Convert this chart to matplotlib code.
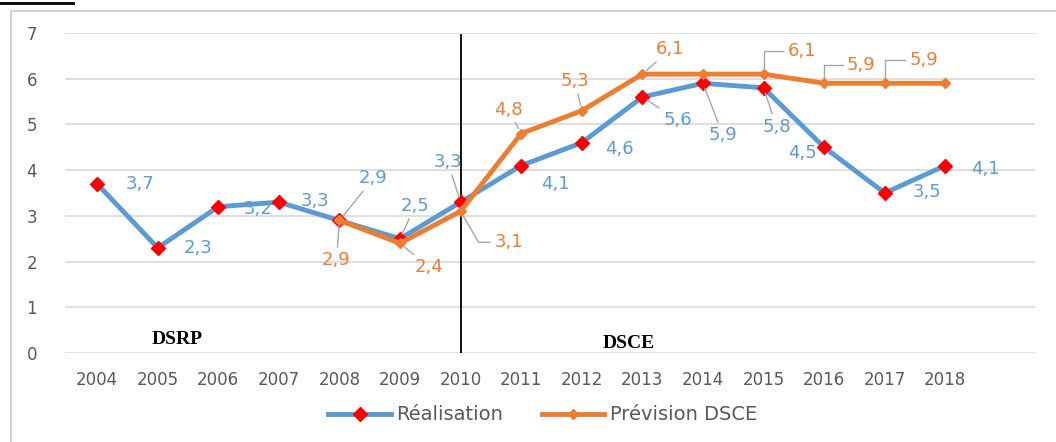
import matplotlib.pyplot as plt
from matplotlib.patches import Rectangle
from matplotlib.lines import Line2D

# data
years = [str(y) for y in range(2004, 2019)]
realisation = [3.7, 2.3, 3.2, 3.3, 2.9, 2.5, 3.3, 4.1, 4.6, 5.6, 5.9, 5.8, 4.5, 3.5, 4.1]
prev_years = years[4:]
prevision = [2.9, 2.4, 3.1, 4.8, 5.3, 6.1, 6.1, 6.1, 5.9, 5.9, 5.9]

# label offsets in pixels (dx, dy, leader): leader None or a connection style
STRAIGHT = 'arc3'
UP = 'angle,angleA=0,angleB=90,rad=0'
DIAG = 'angle,angleA=0,angleB=-60,rad=0'
blue_off = [(43, 0, None), (40, 0, None), (40, -2, None), (36, 1, None),
            (34, 42, STRAIGHT), (15, 33, STRAIGHT), (-13, 40, STRAIGHT),
            (34, -18, None), (38, -6, None), (35, -23, STRAIGHT),
            (20, -52, STRAIGHT), (13, -39, STRAIGHT), (-22, -6, None),
            (42, 1, None), (40, -3, None)]
orange_off = [(-3, -40, STRAIGHT), (29, -24, STRAIGHT), (48, -31, DIAG),
              (-13, 24, STRAIGHT), (-7, 30, STRAIGHT), (28, 25, STRAIGHT), None,
              (38, 23, UP), (37, 18, UP), (39, 23, UP), None]

BLUE = '#5B9BD5'
ORANGE = '#ED7D31'
GREY = '#595959'
LEADER = '#A6A6A6'

plt.rcParams['font.family'] = ['DejaVu Sans']
fig = plt.figure(figsize=(10.56, 4.42), dpi=100)
ax = fig.add_axes([65 / 1056, 89 / 442, 970 / 1056, 320 / 442])

# outer chart frame + cropped title underline at the very top
fig.patches.append(Rectangle((11 / 1056, -0.05), 1.1, (442 - 11) / 442 + 0.05,
                             transform=fig.transFigure, fill=False,
                             edgecolor='#D0D0D0', lw=1.5))
fig.lines.append(Line2D([0, 73 / 1056], [1 - 3 / 442] * 2, transform=fig.transFigure,
                        color='black', lw=2))

x_all = list(range(len(years)))
x_prev = [years.index(y) for y in prev_years]

ax.plot(x_all, realisation, color=BLUE, lw=3.5, marker='D', markersize=7,
        markerfacecolor='red', markeredgecolor='red', label='Réalisation', zorder=3)
ax.plot(x_prev, prevision, color=ORANGE, lw=3.5, marker='D', markersize=5.5,
        markerfacecolor=ORANGE, markeredgecolor=ORANGE, label='Prévision DSCE', zorder=4)


def fmt(v):
    return f'{v:.1f}'.replace('.', ',')


def put_labels(xs, vals, offsets, color):
    for xi, v, off in zip(xs, vals, offsets):
        if off is None:
            continue
        dx, dy, lead = off
        arrow = None
        if lead is not None:
            arrow = dict(arrowstyle='-', color=LEADER, lw=1, shrinkA=1, shrinkB=4,
                         connectionstyle=lead,
                         relpos=(0, 0.5) if lead != STRAIGHT else (0.5, 0.5))
        ax.annotate(fmt(v), (xi, v), xytext=(dx, dy), textcoords='offset pixels',
                    ha='center', va='center', color=color, fontsize=13,
                    arrowprops=arrow, zorder=5)


put_labels(x_all, realisation, blue_off, BLUE)
put_labels(x_prev, prevision, orange_off, ORANGE)

# period separator
ax.plot([years.index('2010')] * 2, [0, 6.95], color='black', lw=1.3, zorder=2)
ax.text(1.32, 0.3, 'DSRP', fontfamily='Liberation Serif', fontweight='bold',
        fontsize=14, ha='center', va='center')
ax.text(8.78, 0.2, 'DSCE', fontfamily='Liberation Serif', fontweight='bold',
        fontsize=14, ha='center', va='center')

ax.set_xlim(-0.53, 15.48)
ax.set_ylim(0, 7)
ax.set_yticks(range(8))
ax.set_xticks(x_all)
ax.set_xticklabels(years)
ax.grid(axis='y', color='#D9D9D9', lw=1.2)
ax.set_axisbelow(True)
for s in ax.spines.values():
    s.set_visible(False)
ax.tick_params(length=0, colors=GREY, labelsize=12)
ax.tick_params(axis='y', pad=20)
ax.tick_params(axis='x', pad=13)

fig.legend(loc='center', bbox_to_anchor=(543 / 1056, 1 - 415 / 442), ncol=2,
           frameon=False, fontsize=14, labelcolor=GREY, handlelength=3.2,
           columnspacing=2.0, handletextpad=0.3)

fig.savefig('out.png', dpi=100)
